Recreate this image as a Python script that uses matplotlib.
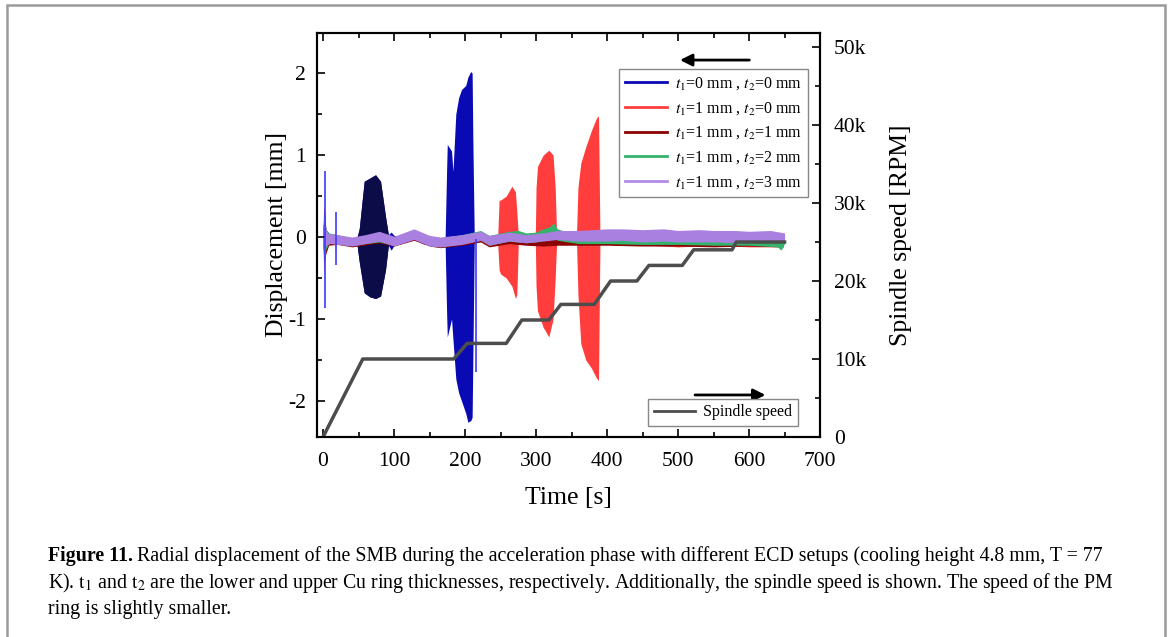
import matplotlib
matplotlib.use('Agg')
import matplotlib.pyplot as plt
from matplotlib.lines import Line2D
from matplotlib.patches import Rectangle

plt.rcParams['font.family'] = ['Liberation Serif', 'DejaVu Serif']
plt.rcParams['mathtext.fontset'] = 'stix'
plt.rcParams['axes.unicode_minus'] = False

# spindle speed (RPM) vs time (s)
spd_t = [0, 56, 184, 203, 258, 280, 318, 335, 382, 405, 442, 459, 506, 522, 576, 582, 650]
spd_v = [0, 10000, 10000, 12000, 12000, 15000, 15000, 17000, 17000, 20000, 20000,
         22000, 22000, 24000, 24000, 25000, 25000]

# displacement envelopes (mm): time, upper, lower
blue_t = [0, 1, 2, 5, 8, 12, 16, 22, 30, 41, 48, 51, 58, 66, 74, 81, 88, 92, 96, 100,
          110, 128, 140, 150, 165, 172, 174, 175, 181, 183, 187, 191, 195, 201, 204, 208,
          210, 211, 213, 216]
blue_hi = [0.05, 0.25, 0.15, 0.08, 0.05, 0.02, 0.02, 0.02, 0.0, -0.02, 0.0, 0.1, 0.68,
           0.72, 0.76, 0.68, 0.25, 0.03, 0.06, 0.02, -0.01, 0.06, 0.0, -0.02, -0.03, 0.0,
           0.8, 1.13, 1.05, 0.8, 1.5, 1.7, 1.8, 1.85, 1.95, 2.02, 2.0, 1.2, 0.0, 0.0]
blue_lo = [-0.05, -0.3, -0.2, -0.1, -0.08, -0.08, -0.08, -0.08, -0.08, -0.1, -0.1, -0.3,
           -0.68, -0.73, -0.75, -0.72, -0.4, -0.1, -0.16, -0.1, -0.08, -0.02, -0.08, -0.1,
           -0.1, -0.1, -0.9, -1.22, -1.0, -1.25, -1.73, -1.9, -2.0, -2.15, -2.26, -2.24,
           -2.2, -1.5, -0.08, -0.05]
blue_spike_t = [3, 18, 215]
blue_spike_hi = [0.8, 0.3, -0.02]
blue_spike_lo = [-0.87, -0.34, -1.65]

red_t = [0, 1, 2, 3, 5, 10, 20, 41, 60, 79, 100, 128, 150, 165, 196, 222, 234, 246, 248,
         250, 258, 266, 271, 273, 275, 286, 299, 300, 302, 310, 318, 324, 327, 329, 340,
         357, 359, 363, 370, 378, 385, 388, 390, 420, 460, 500, 550, 600, 648]
red_hi = [0.1, 0.4, 0.3, 0.1, 0.05, 0.02, 0.0, -0.03, 0.0, 0.02, -0.02, 0.07, -0.02,
          -0.04, 0.0, 0.04, -0.02, 0.0, 0.45, 0.45, 0.5, 0.62, 0.55, 0.3, 0.02, 0.0, 0.02,
          0.6, 0.86, 1.0, 1.06, 1.0, 0.6, 0.03, 0.03, 0.03, 0.6, 0.9, 1.1, 1.3, 1.45, 1.48,
          0.02, 0.0, 0.0, -0.02, -0.02, -0.03, -0.04]
red_lo = [-0.1, -0.45, -0.3, -0.15, -0.1, -0.08, -0.08, -0.1, -0.08, -0.05, -0.09, -0.02,
          -0.1, -0.12, -0.08, -0.04, -0.1, -0.08, -0.4, -0.45, -0.5, -0.6, -0.75, -0.7,
          -0.08, -0.08, -0.06, -0.6, -0.9, -1.1, -1.22, -1.0, -0.5, -0.06, -0.06, -0.06,
          -0.7, -1.3, -1.5, -1.6, -1.72, -1.75, -0.08, -0.1, -0.1, -0.12, -0.1, -0.12, -0.12]

dred_t = [0, 2, 4, 8, 20, 41, 79, 100, 128, 150, 165, 196, 222, 234, 262, 286, 310, 330,
          360, 400, 450, 500, 550, 600, 648]
dred_hi = [0.1, 0.35, 0.1, 0.0, -0.02, -0.05, 0.0, -0.04, 0.04, -0.04, -0.05, -0.02, 0.02,
           -0.04, 0.0, -0.03, -0.02, -0.02, -0.03, -0.04, -0.04, -0.05, -0.05, -0.05, -0.05]
dred_lo = [-0.1, -0.3, -0.2, -0.1, -0.09, -0.12, -0.07, -0.11, -0.04, -0.11, -0.13, -0.1,
           -0.06, -0.12, -0.08, -0.1, -0.11, -0.1, -0.1, -0.1, -0.11, -0.11, -0.12, -0.11,
           -0.12]

green_t = [0, 2, 4, 8, 20, 41, 79, 100, 128, 150, 165, 196, 222, 234, 262, 275, 286, 300,
           310, 318, 325, 330, 345, 360, 400, 450, 500, 550, 600, 640, 645, 650]
green_hi = [0.1, 0.3, 0.1, 0.05, 0.03, -0.01, 0.05, 0.0, 0.08, 0.0, -0.01, 0.03, 0.08,
            0.02, 0.07, 0.08, 0.05, 0.06, 0.1, 0.12, 0.17, 0.1, 0.06, 0.06, 0.06, 0.05,
            0.05, 0.04, 0.04, 0.03, 0.02, 0.02]
green_lo = [-0.1, -0.3, -0.15, -0.08, -0.07, -0.1, -0.06, -0.1, -0.02, -0.1, -0.12, -0.08,
            -0.04, -0.1, -0.05, -0.06, -0.07, -0.06, -0.04, -0.02, 0.0, -0.04, -0.06,
            -0.08, -0.08, -0.09, -0.09, -0.1, -0.1, -0.12, -0.16, -0.08]

purp_t = [0, 1, 2, 4, 6, 10, 20, 41, 60, 79, 100, 128, 150, 165, 196, 222, 234, 262, 286,
          310, 330, 360, 400, 420, 450, 480, 500, 530, 550, 580, 600, 630, 650]
purp_hi = [0.05, 0.3, 0.25, 0.1, 0.05, 0.04, 0.03, 0.0, 0.03, 0.07, 0.01, 0.1, 0.02,
           0.0, 0.03, 0.07, 0.02, 0.06, 0.03, 0.05, 0.08, 0.08, 0.1, 0.1, 0.09, 0.1,
           0.08, 0.09, 0.08, 0.08, 0.07, 0.08, 0.05]
purp_lo = [-0.05, -0.3, -0.25, -0.1, -0.09, -0.08, -0.09, -0.11, -0.08, -0.05, -0.11,
           -0.03, -0.11, -0.12, -0.09, -0.04, -0.1, -0.05, -0.07, -0.05, -0.03, -0.05,
           -0.05, -0.04, -0.06, -0.05, -0.06, -0.06, -0.06, -0.07, -0.06, -0.06, -0.05]

labels = [r'$t_1$=0 mm , $t_2$=0 mm', r'$t_1$=1 mm , $t_2$=0 mm',
          r'$t_1$=1 mm , $t_2$=1 mm', r'$t_1$=1 mm , $t_2$=2 mm',
          r'$t_1$=1 mm , $t_2$=3 mm']
colors = ['#0a0ab4', '#ff3d3d', '#8b0000', '#33b36b', '#b38be6']

x_ticks = [0, 100, 200, 300, 400, 500, 600, 700]
y_ticks = [-2, -1, 0, 1, 2]
spd_ticks = [0, 10000, 20000, 30000, 40000, 50000]
spd_ticklabels = ['0', '10k', '20k', '30k', '40k', '50k']

fig = plt.figure(figsize=(11.71, 6.37), dpi=100)
ax = fig.add_axes([0.2707, 0.3140, 0.4296, 0.6342])

ax.fill_between(blue_t, blue_lo, blue_hi, color=colors[0], lw=0)
# first burst renders much darker in the original
dark = [i for i, t in enumerate(blue_t) if 45 <= t <= 95]
ax.fill_between([blue_t[i] for i in dark], [blue_lo[i] for i in dark],
                [blue_hi[i] for i in dark], color='#0c0c48', lw=0)
ax.vlines(blue_spike_t, blue_spike_lo, blue_spike_hi, color='#3a3aff', lw=1.2)
ax.fill_between(red_t, red_lo, red_hi, color=colors[1], lw=0)
ax.fill_between(dred_t, dred_lo, dred_hi, color=colors[2], lw=0)
ax.fill_between(green_t, green_lo, green_hi, color=colors[3], lw=0)
ax.fill_between(purp_t, purp_lo, purp_hi, color='#a97fe0', lw=0)

ax.set_xlim(-8.5, 700)
ax.set_ylim(-2.44, 2.49)
ax.set_xticks(x_ticks)
ax.set_xticks([50, 150, 250, 350, 450, 550, 650], minor=True)
ax.set_yticks(y_ticks)
ax.set_yticks([-1.5, -0.5, 0.5, 1.5], minor=True)
ax.tick_params(which='both', direction='in', top=True, labelsize=15.5, width=1.2)
ax.tick_params(which='major', length=6)
ax.tick_params(which='minor', length=3.5)
ax.tick_params(axis='x', pad=11)
ax.tick_params(axis='y', pad=8)
ax.set_xlabel('Time [s]', fontsize=18.5)
ax.set_ylabel('Displacement [mm]', fontsize=18.5)
ax.yaxis.set_label_coords(-0.058, 0.5)
ax.xaxis.set_label_coords(0.5, -0.125)

ax2 = ax.twinx()
ax2.plot(spd_t, spd_v, color='#4d4d4d', lw=2.5)
ax2.set_ylim(0, 51800)
ax2.set_yticks(spd_ticks, spd_ticklabels)
ax2.set_yticks([5000, 15000, 25000, 35000, 45000], minor=True)
ax2.tick_params(which='both', direction='in', labelsize=15.5, width=1.2, pad=10)
ax2.tick_params(which='major', length=6)
ax2.tick_params(which='minor', length=3.5)
ax2.set_ylabel('Spindle speed [RPM]', fontsize=18.5)
ax2.yaxis.set_label_coords(1.139, 0.5)

for a in (ax, ax2):
    for s in a.spines.values():
        s.set_linewidth(1.5)

handles = [Line2D([], [], color=c, lw=2) for c in colors]
leg1 = ax2.legend(handles, labels, loc='upper right', bbox_to_anchor=(0.976, 0.911),
                  fontsize=11.5, handlelength=2.6, labelspacing=0.5, fancybox=False,
                  edgecolor='#888888', framealpha=1, borderaxespad=0, handletextpad=0.5,
                  borderpad=0.4)
leg1.get_frame().set_linewidth(1.0)
ax2.add_artist(leg1)
leg2 = ax2.legend([Line2D([], [], color='#4d4d4d', lw=2)], ['Spindle speed'],
                  loc='lower right', bbox_to_anchor=(0.956, 0.027), fontsize=11.5,
                  handlelength=2.6, fancybox=False, edgecolor='#888888', framealpha=1,
                  borderaxespad=0, handletextpad=0.5, borderpad=0.35)
leg2.get_frame().set_linewidth(1.0)

arrow = dict(arrowstyle='-|>', color='black', lw=2, mutation_scale=18)
ax2.annotate('', xy=(0.716, 0.933), xytext=(0.865, 0.933), xycoords='axes fraction',
             arrowprops=arrow)
ax2.annotate('', xy=(0.897, 0.104), xytext=(0.746, 0.104), xycoords='axes fraction',
             arrowprops=arrow)

# frame around the figure
fig.patches.append(Rectangle((7 / 1171, -0.05), 1158 / 1171, 1.05 - 5 / 637,
                             transform=fig.transFigure, fill=False,
                             edgecolor='#9a9a9a', lw=1.8))

# caption
cap_size = 14.3
fig.canvas.draw()
bold = fig.text(48 / 1171, 0.1193, 'Figure 11.', fontsize=cap_size, fontweight='bold')
fig.canvas.draw()
bb = bold.get_window_extent()
fig.text(bb.x1 / 1171 + 4 / 1171, 0.1193,
         'Radial displacement of the SMB during the acceleration phase with different '
         'ECD setups (cooling height 4.8 mm, T = 77', fontsize=cap_size)
fig.text(48 / 1171, 0.0769,
         r'K). $\mathrm{t}_1$ and $\mathrm{t}_2$ are the lower and upper Cu ring '
         'thicknesses, respectively. Additionally, the spindle speed is shown. '
         'The speed of the PM', fontsize=cap_size)
fig.text(48 / 1171, 0.0361, 'ring is slightly smaller.', fontsize=cap_size)

fig.savefig('out.png', dpi=100)
